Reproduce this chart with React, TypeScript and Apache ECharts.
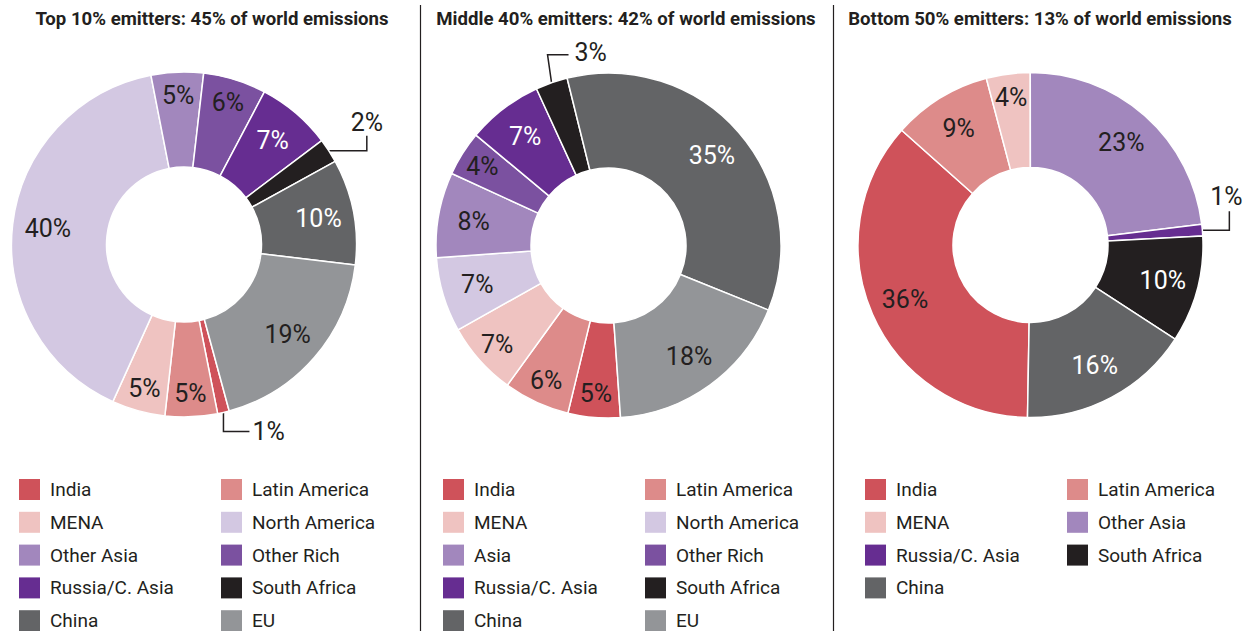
import React, { useEffect, useRef } from 'react';
import * as echarts from 'echarts';

// ---------- DATA ----------
const panelTitles = [
  'Top 10% emitters: 45% of world emissions',
  'Middle 40% emitters: 42% of world emissions',
  'Bottom 50% emitters: 13% of world emissions',
];

const top10Names = ['India', 'Latin America', 'MENA', 'North America', 'Other Asia', 'Other Rich', 'Russia/C. Asia', 'South Africa', 'China', 'EU'];
const top10Values = [1.1, 4.9, 5.0, 40.2, 4.9, 5.9, 7.0, 2.3, 9.9, 18.9];

const middle40Names = ['India', 'Latin America', 'MENA', 'North America', 'Asia', 'Other Rich', 'Russia/C. Asia', 'South Africa', 'China', 'EU'];
const middle40Values = [4.9, 6.2, 6.9, 7.0, 8.0, 4.2, 7.1, 3.0, 35.0, 17.8];

const bottom50Names = ['India', 'Latin America', 'MENA', 'Other Asia', 'Russia/C. Asia', 'South Africa', 'China'];
const bottom50Values = [36.3, 9.3, 4.1, 23.1, 1.1, 10.0, 16.1];

const top10Legend = [
  ['India', 'MENA', 'Other Asia', 'Russia/C. Asia', 'China'],
  ['Latin America', 'North America', 'Other Rich', 'South Africa', 'EU'],
];
const middle40Legend = [
  ['India', 'MENA', 'Asia', 'Russia/C. Asia', 'China'],
  ['Latin America', 'North America', 'Other Rich', 'South Africa', 'EU'],
];
const bottom50Legend = [
  ['India', 'MENA', 'Russia/C. Asia', 'China'],
  ['Latin America', 'Other Asia', 'South Africa'],
];

// ---------- STYLE / LAYOUT ----------
const regionColors: Record<string, string> = {
  'India': '#cf525a',
  'Latin America': '#dd8b8a',
  'MENA': '#efc3c1',
  'North America': '#d3c8e2',
  'Other Asia': '#a287bd',
  'Asia': '#a287bd',
  'Other Rich': '#7b51a0',
  'Russia/C. Asia': '#662d91',
  'South Africa': '#231f20',
  'China': '#636466',
  'EU': '#939598',
};
const whiteLabelRegions = ['Russia/C. Asia', 'South Africa', 'China'];
const INK = '#231f20';
const FONT = 'Roboto';

const seriesNames = [top10Names, middle40Names, bottom50Names];
const seriesValues = [top10Values, middle40Values, bottom50Values];
const legendCols = [top10Legend, middle40Legend, bottom50Legend];

const PIE_CENTERS = [[184, 244.5], [608.5, 245.5], [1030.5, 245]];
const START_ANGLES = [285.2, 274, 269];
const TITLE_X = [212, 626, 1040];
const LEGEND_X = [[19, 221], [443, 645], [865, 1067]];

type Leader = { d1: number[]; d2: number[]; t: number[]; align: string; vAlign: string };
const leaders: Record<string, Leader> = {
  '0:India': { d1: [0, 19], d2: [26, 0], t: [3, 0], align: 'left', vAlign: 'middle' },
  '0:South Africa': { d1: [38, 0], d2: [0, -15], t: [0, -1], align: 'center', vAlign: 'bottom' },
  '1:South Africa': { d1: [-4, -28], d2: [21, 0], t: [6, -2], align: 'left', vAlign: 'middle' },
  '2:Russia/C. Asia': { d1: [27, 0], d2: [0, -19], t: [-3, -2], align: 'center', vAlign: 'bottom' },
};

const labelLayout = (params: any) => {
  const s = params.seriesIndex;
  const i = params.dataIndex;
  const name = seriesNames[s][i];
  const leader = leaders[s + ':' + name];
  if (leader) {
    if (!params.labelLinePoints) return {};
    const [x0, y0] = params.labelLinePoints[0];
    const p1 = [x0 + leader.d1[0], y0 + leader.d1[1]];
    const p2 = [p1[0] + leader.d2[0], p1[1] + leader.d2[1]];
    return {
      x: p2[0] + leader.t[0],
      y: p2[1] + leader.t[1],
      align: leader.align,
      verticalAlign: leader.vAlign,
      labelLinePoints: [[x0, y0], p1, p2],
    };
  }
  const r = params.labelRect;
  const lx = r.x + r.width / 2;
  const ly = r.y + r.height / 2;
  const [pcx, pcy] = PIE_CENTERS[s];
  const dx = lx - pcx;
  const dy = ly - pcy;
  const d = Math.hypot(dx, dy) || 1;
  const R = seriesValues[s][i] < 7 ? 149 : 137;
  return { x: pcx + (dx / d) * R, y: pcy + (dy / d) * R, align: 'center', verticalAlign: 'middle' };
};

export default function App() {
  const ref = useRef<HTMLDivElement>(null);

  useEffect(() => {
    if (!ref.current) return;
    const chart = echarts.init(ref.current, undefined, { renderer: 'svg' });

    const series = seriesNames.map((names, s) => ({
      type: 'pie',
      center: PIE_CENTERS[s],
      radius: [77.5, 172.5],
      startAngle: START_ANGLES[s],
      clockwise: true,
      avoidLabelOverlap: false,
      silent: true,
      emphasis: { disabled: true },
      itemStyle: { borderColor: '#ffffff', borderWidth: 1.5 },
      label: {
        show: true,
        position: 'inside',
        formatter: (p: any) => Math.round(p.value) + '%',
        fontFamily: FONT,
        fontSize: 25,
        color: INK,
        overflow: 'none',
      },
      labelLine: { show: false },
      labelLayout,
      data: names.map((n, i) => {
        const outside = !!leaders[s + ':' + n];
        return {
          name: n,
          value: seriesValues[s][i],
          itemStyle: { color: regionColors[n] },
          label: outside
            ? { position: 'outside', color: INK }
            : { color: whiteLabelRegions.includes(n) ? '#ffffff' : INK },
          labelLine: outside
            ? { show: true, length: 15, length2: 15, smooth: false, lineStyle: { color: INK, width: 1.5 } }
            : { show: false },
        };
      }),
    }));

    const legend = legendCols.flatMap((cols, p) =>
      cols.map((names, c) => ({
        orient: 'vertical',
        left: LEGEND_X[p][c],
        top: 479,
        height: 200,
        padding: 0,
        itemWidth: 21,
        itemHeight: 21,
        itemGap: 11.8,
        icon: 'rect',
        selectedMode: false,
        itemStyle: { borderWidth: 0 },
        textStyle: { fontFamily: FONT, fontSize: 19, color: INK, padding: [0, 0, 0, 5] },
        data: names,
      }))
    );

    const title = panelTitles.map((t, p) => ({
      text: t,
      left: TITLE_X[p],
      top: 9,
      padding: 0,
      textAlign: 'center',
      textStyle: { fontFamily: FONT, fontSize: 18.6, fontWeight: 'bold', color: INK },
    }));

    chart.setOption({
      animation: false,
      backgroundColor: '#ffffff',
      title,
      legend,
      tooltip: { show: false },
      graphic: [
        { type: 'line', silent: true, shape: { x1: 420.5, y1: 5, x2: 420.5, y2: 631 }, style: { stroke: INK, lineWidth: 1.2 } },
        { type: 'line', silent: true, shape: { x1: 833.5, y1: 5, x2: 833.5, y2: 631 }, style: { stroke: INK, lineWidth: 1.2 } },
      ],
      series,
    });

    return () => chart.dispose();
  }, []);

  return (
    <div
      ref={ref}
      style={{ position: 'absolute', left: 0, top: 0, width: 1252, height: 631, background: '#ffffff' }}
    />
  );
}
